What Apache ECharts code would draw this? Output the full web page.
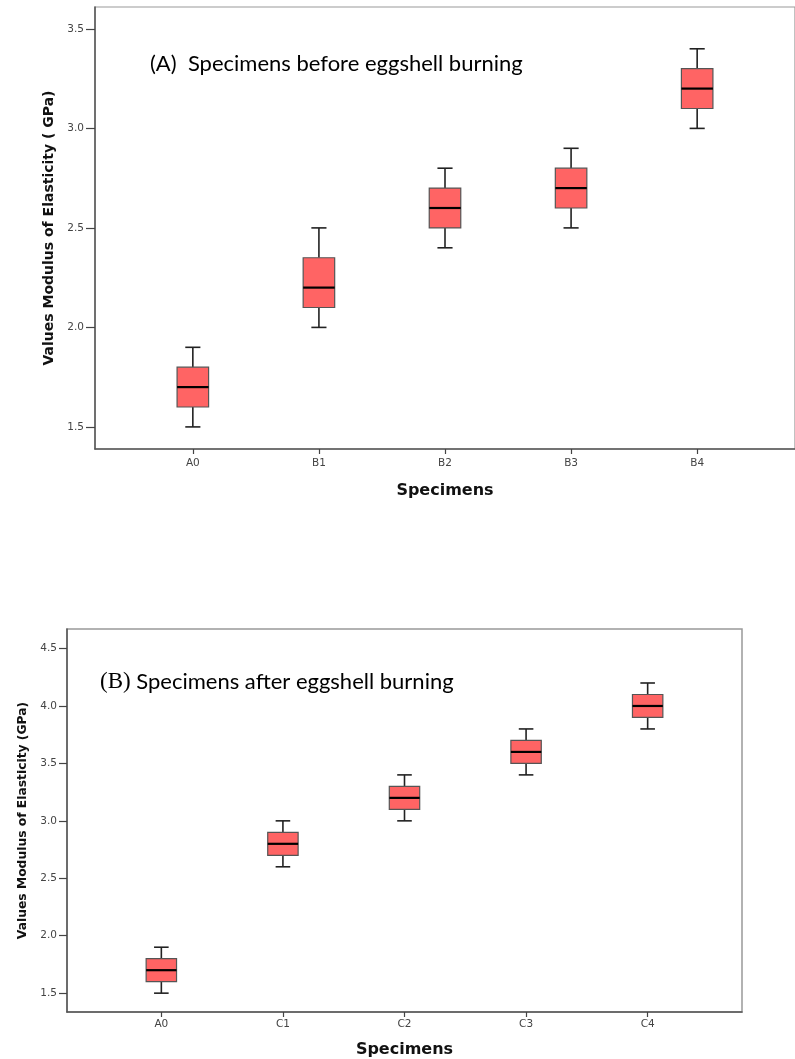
<!DOCTYPE html>
<html>
<head>
<meta charset="utf-8">
<script src="https://cdn.jsdelivr.net/npm/echarts@6/dist/echarts.min.js"></script>
<style>
  html, body { margin: 0; padding: 0; background: #fff; }
  #chart { width: 795px; height: 1059px; }
</style>
</head>
<body>
<div id="chart"></div>
<script>
// (A) before eggshell burning
const catsA = ['A0', 'B1', 'B2', 'B3', 'B4']
const minA = [1.5, 2.0, 2.4, 2.5, 3.0]
const q1A = [1.6, 2.1, 2.5, 2.6, 3.1]
const medA = [1.7, 2.2, 2.6, 2.7, 3.2]
const q3A = [1.8, 2.35, 2.7, 2.8, 3.3]
const maxA = [1.9, 2.5, 2.8, 2.9, 3.4]
const yTicksA = [1.5, 2.0, 2.5, 3.0, 3.5]

// (B) after eggshell burning
const catsB = ['A0', 'C1', 'C2', 'C3', 'C4']
const minB = [1.5, 2.6, 3.0, 3.4, 3.8]
const q1B = [1.6, 2.7, 3.1, 3.5, 3.9]
const medB = [1.7, 2.8, 3.2, 3.6, 4.0]
const q3B = [1.8, 2.9, 3.3, 3.7, 4.1]
const maxB = [1.9, 3.0, 3.4, 3.8, 4.2]
const yTicksB = [1.5, 2.0, 2.5, 3.0, 3.5, 4.0, 4.5]

const xTicks = [0, 1, 2, 3, 4]

const chart = echarts.init(document.getElementById('chart'))

// rows of [x, min, q1, median, q3, max]
const rows = (mins, q1s, meds, q3s, maxs) =>
    mins.map((m, i) => [i, m, q1s[i], meds[i], q3s[i], maxs[i]])

function renderBox(params, api) {
    const x = api.value(0)
    const lo = api.coord([x, api.value(1)])
    const q1 = api.coord([x, api.value(2)])
    const med = api.coord([x, api.value(3)])
    const q3 = api.coord([x, api.value(4)])
    const hi = api.coord([x, api.value(5)])
    const band = api.size([1, 0])[0]
    const half = band * 0.125
    const cap = band * 0.06
    const cx = lo[0]
    const whisker = { stroke: '#222', lineWidth: 1.6 }
    return {
        type: 'group',
        children: [
            { type: 'line', shape: { x1: cx, y1: hi[1], x2: cx, y2: q3[1] }, style: whisker },
            { type: 'line', shape: { x1: cx, y1: q1[1], x2: cx, y2: lo[1] }, style: whisker },
            { type: 'line', shape: { x1: cx - cap, y1: hi[1], x2: cx + cap, y2: hi[1] }, style: whisker },
            { type: 'line', shape: { x1: cx - cap, y1: lo[1], x2: cx + cap, y2: lo[1] }, style: whisker },
            {
                type: 'rect',
                shape: { x: cx - half, y: q3[1], width: half * 2, height: q1[1] - q3[1] },
                style: { fill: '#ff6464', stroke: '#555', lineWidth: 1.2 },
            },
            { type: 'line', shape: { x1: cx - half, y1: med[1], x2: cx + half, y2: med[1] }, style: { stroke: '#000', lineWidth: 2.2 } },
        ],
    }
}

const tickLabel = { fontFamily: 'DejaVu Sans', fontSize: 10.5, color: '#444' }

function makeX(idx, cats, gap, margin) {
    return {
        gridIndex: idx,
        type: 'value',
        min: -0.776,
        max: 4.776,
        splitLine: { show: false },
        axisLine: { onZero: false, lineStyle: { color: '#555', width: 1.5 } },
        axisTick: { customValues: xTicks, length: 5, lineStyle: { color: '#444', width: 1.2 } },
        axisLabel: {
            customValues: xTicks,
            formatter: (v) => cats[Math.round(v)],
            margin: margin,
            ...tickLabel,
        },
        name: 'Specimens',
        nameLocation: 'middle',
        nameGap: gap,
        nameTextStyle: { fontFamily: 'DejaVu Sans', fontWeight: 'bold', fontSize: 16, color: '#111' },
    }
}

function makeY(idx, min, max, ticks, name, fs, gap, tick) {
    return {
        gridIndex: idx,
        type: 'value',
        min: min,
        max: max,
        splitLine: { show: false },
        axisLine: { show: true, onZero: false, lineStyle: { color: '#555', width: 1.5 } },
        axisTick: { customValues: ticks, length: tick, lineStyle: { color: '#444', width: 1.2 } },
        axisLabel: {
            customValues: ticks,
            formatter: (v) => v.toFixed(1),
            margin: tick + 2,
            ...tickLabel,
        },
        name: name,
        nameLocation: 'middle',
        nameGap: gap,
        nameTextStyle: {
            fontFamily: 'DejaVu Sans',
            fontWeight: 'bold',
            fontSize: fs,
            color: '#111',
        },
    }
}

chart.setOption({
    animation: false,
    backgroundColor: '#fff',
    title: [
        {
            text: '(A)  Specimens before eggshell burning',
            left: 145,
            top: 48,
            textStyle: { fontFamily: 'Lato', fontWeight: 'normal', fontSize: 22, color: '#000' },
        },
        {
            text: '{s|(B)} Specimens after eggshell burning',
            left: 95,
            top: 665,
            textStyle: {
                fontFamily: 'Lato',
                fontWeight: 'normal',
                fontSize: 22,
                color: '#000',
                rich: { s: { fontFamily: 'Liberation Serif', fontSize: 23, color: '#000' } },
            },
        },
    ],
    grid: [
        { left: 95, top: 7, width: 708, height: 442, show: true, borderColor: '#999', borderWidth: 1.2 },
        { left: 67, top: 629, width: 675, height: 387, show: true, borderColor: '#999', borderWidth: 1.5 },
    ],
    xAxis: [makeX(0, catsA, 34, 9), makeX(1, catsB, 30, 7)],
    yAxis: [
        makeY(0, 1.389, 3.61, yTicksA, 'Values Modulus of Elasticity ( GPa)', 14, 39, 9),
        makeY(1, 1.336, 4.67, yTicksB, 'Values Modulus of Elasticity (GPa)', 12.3, 38, 8),
    ],
    series: [
        {
            type: 'custom',
            xAxisIndex: 0,
            yAxisIndex: 0,
            renderItem: renderBox,
            encode: { x: 0, y: [1, 2, 3, 4, 5] },
            data: rows(minA, q1A, medA, q3A, maxA),
        },
        {
            type: 'custom',
            xAxisIndex: 1,
            yAxisIndex: 1,
            renderItem: renderBox,
            encode: { x: 0, y: [1, 2, 3, 4, 5] },
            data: rows(minB, q1B, medB, q3B, maxB),
        },
    ],
})
</script>
</body>
</html>
